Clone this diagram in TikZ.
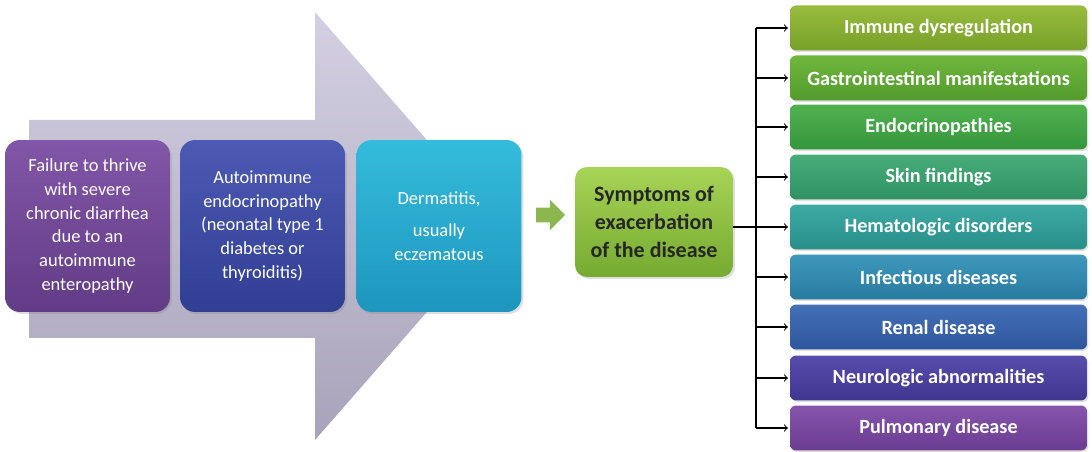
\documentclass[tikz,border=0pt]{standalone}
\usepackage{fontspec}
\setmainfont{Carlito}
\usetikzlibrary{shapes.arrows,shadows}
\definecolor{arrowtop}{RGB}{212,208,226}
\definecolor{arrowbot}{RGB}{168,163,186}
\definecolor{purpletop}{RGB}{130,86,168}
\definecolor{purplebot}{RGB}{98,60,134}
\definecolor{bluetop}{RGB}{76,90,180}
\definecolor{bluebot}{RGB}{48,62,148}
\definecolor{cyantop}{RGB}{52,188,220}
\definecolor{cyanbot}{RGB}{30,150,190}
\definecolor{limetop}{RGB}{166,212,86}
\definecolor{limebot}{RGB}{118,170,48}
\definecolor{immtop}{RGB}{152,188,62}\definecolor{immbot}{RGB}{118,160,40}
\definecolor{gastop}{RGB}{112,182,62}\definecolor{gasbot}{RGB}{82,156,44}
\definecolor{endtop}{RGB}{80,178,78}\definecolor{endbot}{RGB}{52,150,60}
\definecolor{skitop}{RGB}{72,172,122}\definecolor{skibot}{RGB}{46,146,100}
\definecolor{hemtop}{RGB}{62,170,164}\definecolor{hembot}{RGB}{40,142,136}
\definecolor{inftop}{RGB}{62,152,188}\definecolor{infbot}{RGB}{40,122,160}
\definecolor{rentop}{RGB}{68,112,184}\definecolor{renbot}{RGB}{46,86,156}
\definecolor{neutop}{RGB}{88,76,172}\definecolor{neubot}{RGB}{64,54,144}
\definecolor{pultop}{RGB}{134,84,172}\definecolor{pulbot}{RGB}{106,60,146}

\begin{document}
\begin{tikzpicture}[x=0.02cm,y=-0.02cm,
    stagebox/.style={rounded corners=0.3cm, minimum width=3.3cm, minimum height=3.44cm,
        align=center, text=white, font=\fontsize{10.5}{13.5}\selectfont,
        drop shadow={opacity=0.25, shadow xshift=0.04cm, shadow yshift=-0.04cm}},
    signbox/.style={rounded corners=0.12cm, minimum width=5.94cm, minimum height=0.9cm,
        text=white, font=\bfseries\fontsize{11.5}{13}\selectfont,
        drop shadow={opacity=0.25, shadow xshift=0.03cm, shadow yshift=-0.03cm}},
    link/.style={->, semithick, shorten >=1pt}]
    \useasboundingbox (0,0) rectangle (1092,452);
    \path[top color=arrowtop, bottom color=arrowbot] (29,120) -- (315,120) -- (315,12) -- (502,226) -- (315,440) -- (315,338) -- (29,338) -- cycle;
    \node[stagebox, top color=purpletop, bottom color=purplebot] (thrive) at (87.5,226) {Failure to thrive\\with severe\\chronic diarrhea\\due to an\\autoimmune\\enteropathy};
    \node[stagebox, top color=bluetop, bottom color=bluebot] (endo) at (262.5,226) {Autoimmune\\endocrinopathy\\(neonatal type 1\\diabetes or\\thyroiditis)};
    \node[stagebox, top color=cyantop, bottom color=cyanbot] (derm) at (439,226) {Dermatitis,\\[5pt]usually\\eczematous};
    \node[single arrow, fill=limebot!85!white, inner sep=0.14cm, minimum height=0.58cm, single arrow head extend=0.16cm] (go) at (547,215) {};
    \node[rounded corners=0.24cm, minimum width=3.16cm, minimum height=2.2cm, align=center, top color=limetop, bottom color=limebot,
        text={black!85}, font=\bfseries\fontsize{12.5}{16}\selectfont,
        drop shadow={opacity=0.25, shadow xshift=0.04cm, shadow yshift=-0.04cm}] (sym) at (654,222) {Symptoms of\\exacerbation\\of the disease};
    \node[signbox, top color=immtop, bottom color=immbot] (imm) at (938.5,28) {Immune dysregulation};
    \node[signbox, top color=gastop, bottom color=gasbot] (gas) at (938.5,78) {Gastrointestinal manifestations};
    \node[signbox, top color=endtop, bottom color=endbot] (ecp) at (938.5,127) {Endocrinopathies};
    \node[signbox, top color=skitop, bottom color=skibot] (ski) at (938.5,177) {Skin findings};
    \node[signbox, top color=hemtop, bottom color=hembot] (hem) at (938.5,227) {Hematologic disorders};
    \node[signbox, top color=inftop, bottom color=infbot] (inf) at (938.5,277) {Infectious diseases};
    \node[signbox, top color=rentop, bottom color=renbot] (ren) at (938.5,327) {Renal disease};
    \node[signbox, top color=neutop, bottom color=neubot] (neu) at (938.5,378) {Neurologic abnormalities};
    \node[signbox, top color=pultop, bottom color=pulbot] (pul) at (938.5,428) {Pulmonary disease};
    \coordinate (bus) at (756,0);
    \draw[semithick] (bus |- imm.west) -- (bus |- pul.west);
    \draw[link] (sym.east |- hem.west) -- (hem.west);
    \draw[link] (bus |- imm.west) -- (imm.west);
    \draw[link] (bus |- gas.west) -- (gas.west);
    \draw[link] (bus |- ecp.west) -- (ecp.west);
    \draw[link] (bus |- ski.west) -- (ski.west);
    \draw[link] (bus |- inf.west) -- (inf.west);
    \draw[link] (bus |- ren.west) -- (ren.west);
    \draw[link] (bus |- neu.west) -- (neu.west);
    \draw[link] (bus |- pul.west) -- (pul.west);
\end{tikzpicture}
\end{document}
